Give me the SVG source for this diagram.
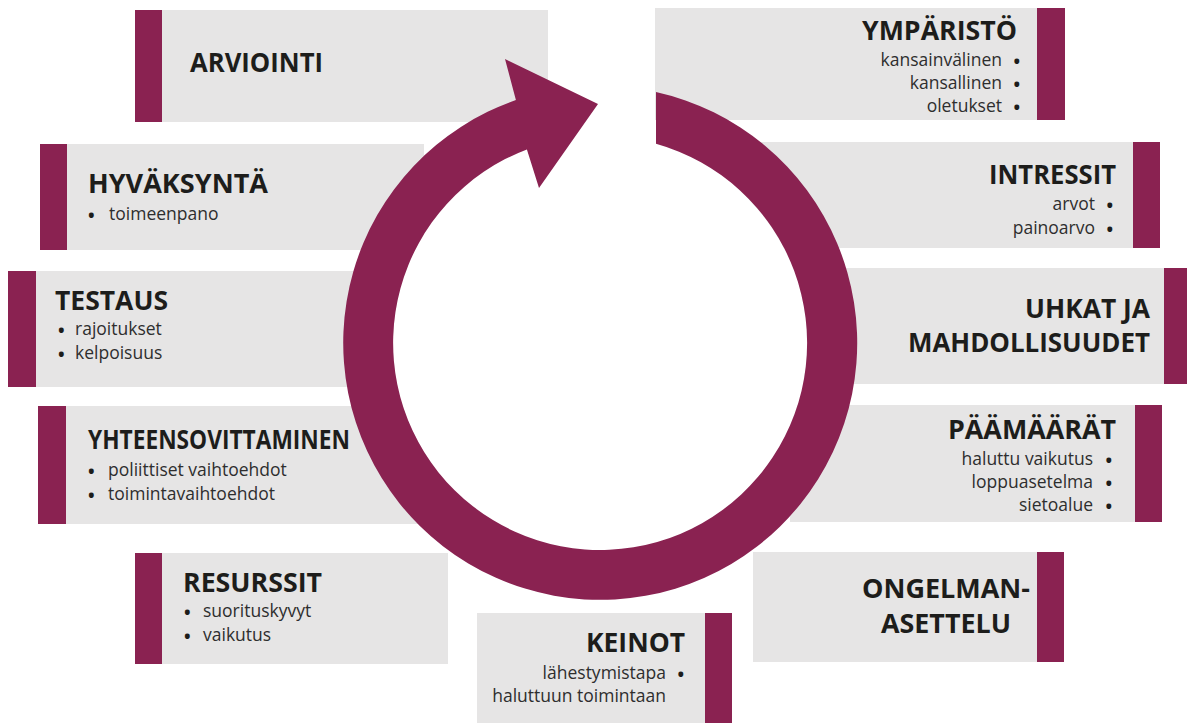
<svg xmlns="http://www.w3.org/2000/svg" width="1187" height="723" viewBox="0 0 1187 723">
<style>
.bg{fill:#e6e5e5}
.bar{fill:#8a2251}
.t{font-family:"Open Sans","Liberation Sans",sans-serif;font-weight:700;font-size:26px;fill:#1d1d1b}
.i{font-family:"Open Sans","Liberation Sans",sans-serif;font-size:17.5px;fill:#2e2e2e}
.b{font-weight:700;fill:#1d1d1b}
.e{text-anchor:end}
</style>
<rect width="1187" height="723" fill="#ffffff"/>
<g id="arviointi"><rect class="bg" x="162" y="10" width="386" height="112"/><rect class="bar" x="135" y="10" width="27" height="112"/><text class="t" x="190" y="72" textLength="133" lengthAdjust="spacingAndGlyphs">ARVIOINTI</text></g>
<g id="hyvaksynta"><rect class="bg" x="67" y="144" width="357" height="106"/><rect class="bar" x="40" y="144" width="27" height="106"/><text class="t" x="88" y="193" textLength="180" lengthAdjust="spacingAndGlyphs">HYVÄKSYNTÄ</text><text class="i" y="220"><tspan class="b" x="88" dy="1.5">•</tspan><tspan x="109" dy="-1.5">toimeenpano</tspan></text></g>
<g id="testaus"><rect class="bg" x="36" y="271" width="364" height="116"/><rect class="bar" x="8" y="271" width="28" height="116"/><text class="t" x="55" y="310" textLength="113" lengthAdjust="spacingAndGlyphs">TESTAUS</text><text class="i" y="335"><tspan class="b" x="58" dy="1.5">•</tspan><tspan x="75" dy="-1.5">rajoitukset</tspan></text><text class="i" y="359"><tspan class="b" x="58" dy="1.5">•</tspan><tspan x="75" dy="-1.5">kelpoisuus</tspan></text></g>
<g id="yhteensovittaminen"><rect class="bg" x="66" y="406" width="364" height="118"/><rect class="bar" x="38" y="406" width="28" height="118"/><text class="t" x="88" y="449" textLength="262" lengthAdjust="spacingAndGlyphs">YHTEENSOVITTAMINEN</text><text class="i" y="476"><tspan class="b" x="88" dy="1.5">•</tspan><tspan x="108" dy="-1.5">poliittiset vaihtoehdot</tspan></text><text class="i" y="500"><tspan class="b" x="88" dy="1.5">•</tspan><tspan x="108" dy="-1.5">toimintavaihtoehdot</tspan></text></g>
<g id="resurssit"><rect class="bg" x="162" y="553" width="286" height="111"/><rect class="bar" x="135" y="553" width="27" height="111"/><text class="t" x="183" y="592" textLength="139" lengthAdjust="spacingAndGlyphs">RESURSSIT</text><text class="i" y="617"><tspan class="b" x="184" dy="1.5">•</tspan><tspan x="203" dy="-1.5">suorituskyvyt</tspan></text><text class="i" y="641"><tspan class="b" x="184" dy="1.5">•</tspan><tspan x="203" dy="-1.5">vaikutus</tspan></text></g>
<g id="keinot"><rect class="bg" x="477" y="613" width="228" height="110"/><rect class="bar" x="705" y="613" width="27" height="110"/><text class="t e" x="685" y="652" textLength="99" lengthAdjust="spacingAndGlyphs">KEINOT</text><text class="i e" y="679"><tspan x="666">lähestymistapa</tspan><tspan class="b" x="684" dy="1.5">•</tspan></text><text class="i e" x="666" y="702">haluttuun toimintaan</text></g>
<g id="ongelmanasettelu"><rect class="bg" x="753" y="552" width="284" height="110"/><rect class="bar" x="1037" y="552" width="27" height="110"/><text class="t e" x="1030" y="598" textLength="168" lengthAdjust="spacingAndGlyphs">ONGELMAN-</text><text class="t e" x="1011" y="633" textLength="130" lengthAdjust="spacingAndGlyphs">ASETTELU</text></g>
<g id="paamaarat"><rect class="bg" x="790" y="405" width="345" height="117"/><rect class="bar" x="1135" y="405" width="27" height="117"/><text class="t e" x="1116" y="439" textLength="168" lengthAdjust="spacingAndGlyphs">PÄÄMÄÄRÄT</text><text class="i e" y="465"><tspan x="1093">haluttu vaikutus</tspan><tspan class="b" x="1112" dy="1.5">•</tspan></text><text class="i e" y="488"><tspan x="1093">loppuasetelma</tspan><tspan class="b" x="1112" dy="1.5">•</tspan></text><text class="i e" y="511"><tspan x="1093">sietoalue</tspan><tspan class="b" x="1112" dy="1.5">•</tspan></text></g>
<g id="uhkat"><rect class="bg" x="800" y="268" width="364" height="116"/><rect class="bar" x="1164" y="268" width="23" height="116"/><text class="t e" x="1150" y="318" textLength="125" lengthAdjust="spacingAndGlyphs">UHKAT JA</text><text class="t e" x="1150" y="352" textLength="242" lengthAdjust="spacingAndGlyphs">MAHDOLLISUUDET</text></g>
<g id="intressit"><rect class="bg" x="740" y="142" width="393" height="106"/><rect class="bar" x="1133" y="142" width="27" height="106"/><text class="t e" x="1116" y="184" textLength="127" lengthAdjust="spacingAndGlyphs">INTRESSIT</text><text class="i e" y="210"><tspan x="1095">arvot</tspan><tspan class="b" x="1113" dy="1.5">•</tspan></text><text class="i e" y="234"><tspan x="1095">painoarvo</tspan><tspan class="b" x="1113" dy="1.5">•</tspan></text></g>
<g id="ymparisto"><rect class="bg" x="655" y="8" width="382" height="112"/><rect class="bar" x="1037" y="8" width="28" height="112"/><text class="t e" x="1017" y="40" textLength="155" lengthAdjust="spacingAndGlyphs">YMPÄRISTÖ</text><text class="i e" y="66"><tspan x="1002">kansainvälinen</tspan><tspan class="b" x="1020" dy="1.5">•</tspan></text><text class="i e" y="89"><tspan x="1002">kansallinen</tspan><tspan class="b" x="1020" dy="1.5">•</tspan></text><text class="i e" y="112"><tspan x="1002">oletukset</tspan><tspan class="b" x="1020" dy="1.5">•</tspan></text></g>
<g id="connectors">
<circle cx="600" cy="343" r="207" fill="#ffffff"/>
<path class="bar" d="M656,92 A257,257 0 1 1 515.9,100.1 L505,59 L598,104 L539,188 L526.9,149.4 A207,207 0 1 0 656,143.7 Z"/>
</g>
</svg>
